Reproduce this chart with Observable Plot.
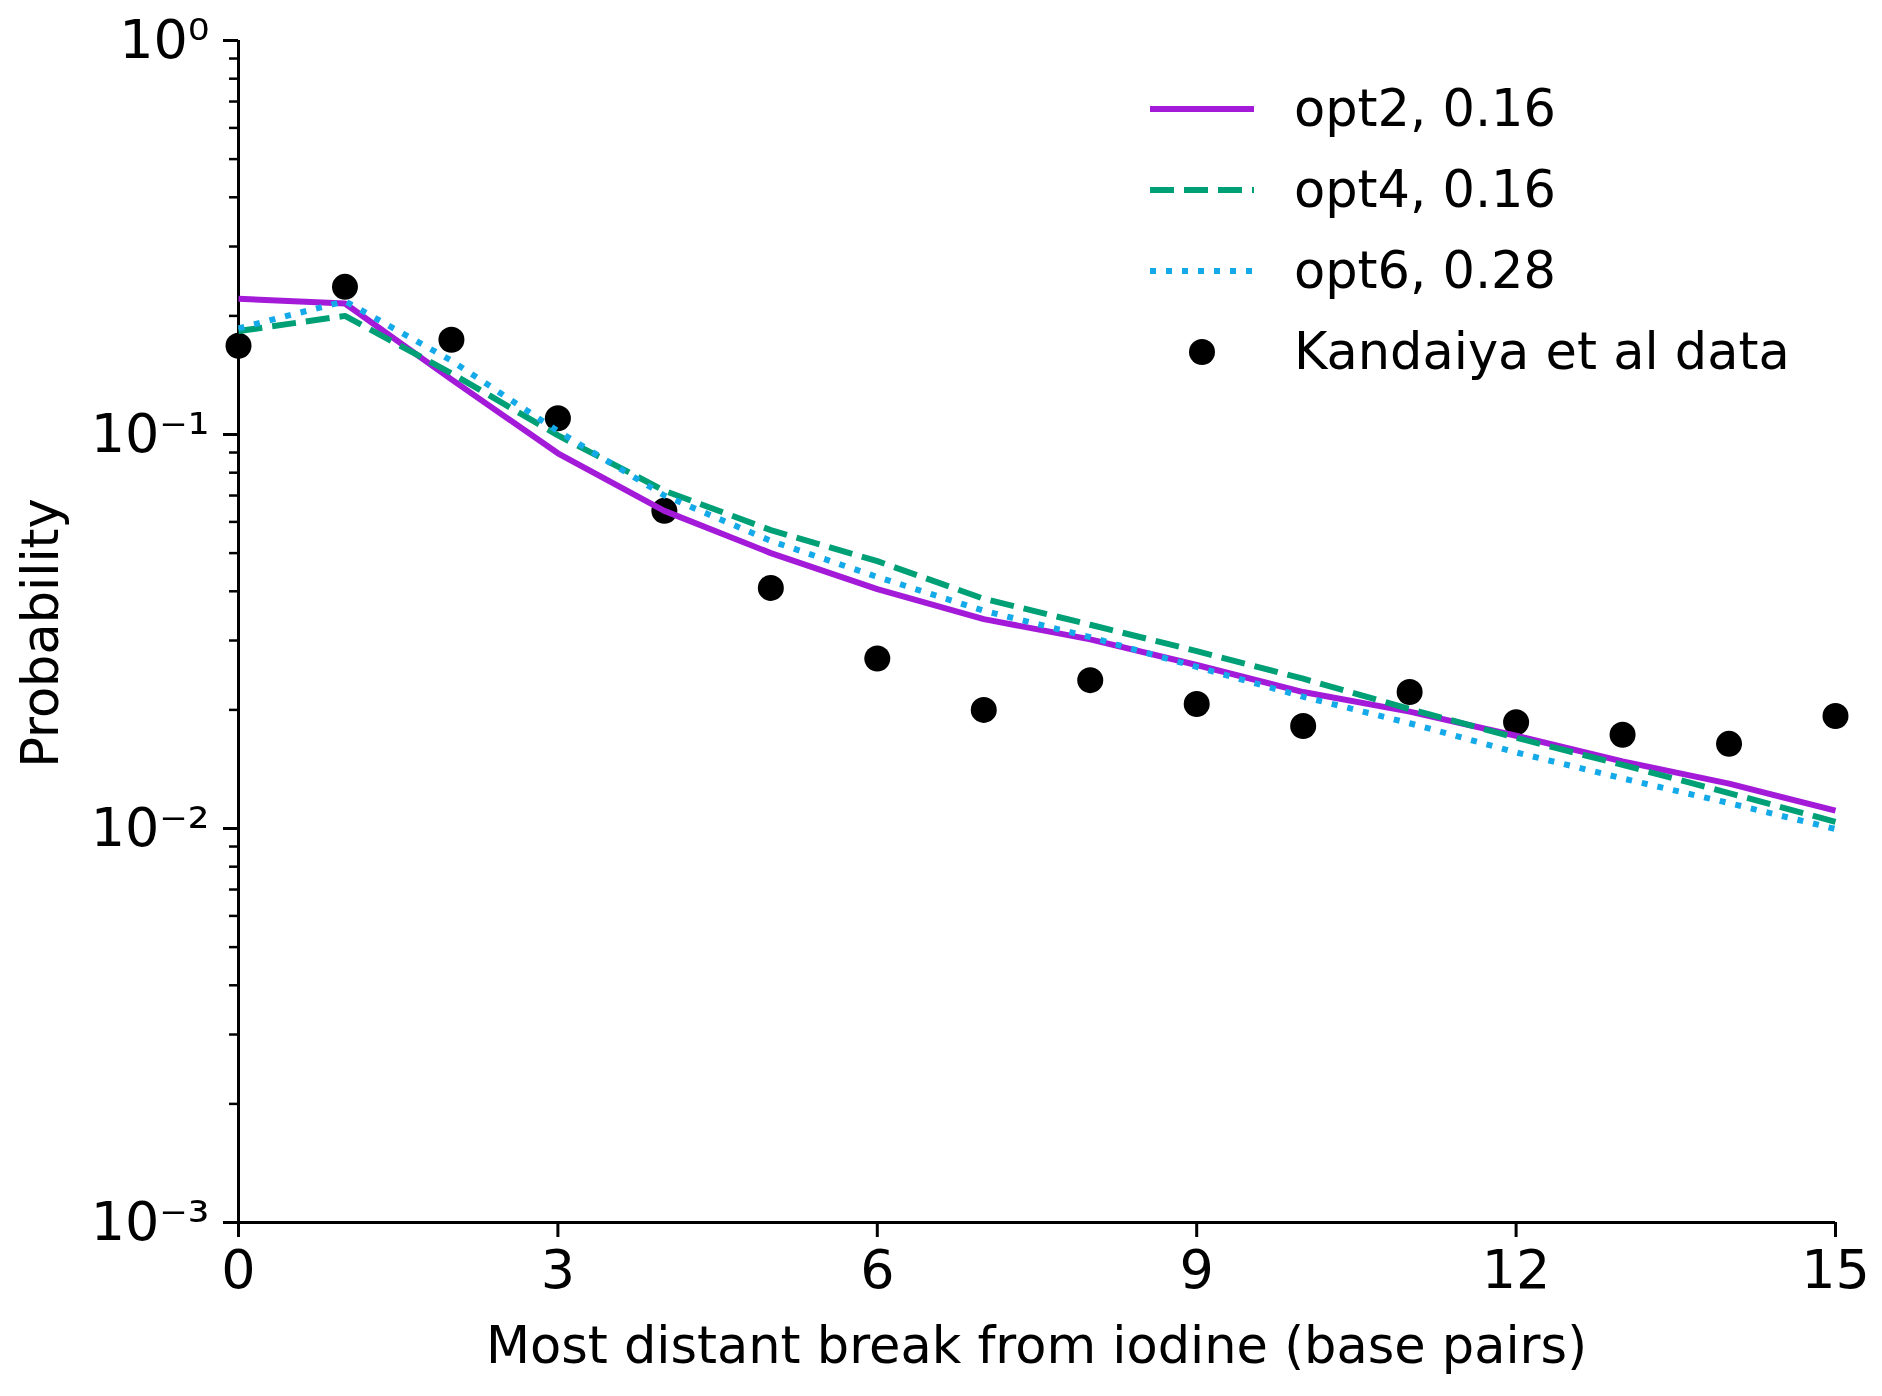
<!DOCTYPE html>
<html>
<head>
<meta charset="utf-8">
<script src="https://cdn.jsdelivr.net/npm/d3@7"></script>
<script src="https://cdn.jsdelivr.net/npm/@observablehq/plot@0.6"></script>
<style>
  html, body { margin: 0; padding: 0; background: #fff; }
  #wrap { position: relative; width: 1882px; height: 1396px; font-family: "DejaVu Sans", sans-serif; color: #000; }
  #legend { position: absolute; left: 1148px; top: 68px; }
  .row { display: flex; align-items: center; height: 81px; font-size: 51px; white-space: nowrap; }
  .row svg { margin-right: 38px; }
  #xlabel { position: absolute; left: 238px; width: 1597px; top: 1316px; text-align: center; font-size: 51px; }
  #ylabel { position: absolute; left: 40px; top: 633px; font-size: 51px; transform: translate(-50%, -50%) rotate(-90deg); white-space: nowrap; }
</style>
</head>
<body>
<div id="wrap"></div>
<script>
// ---- data ----
const xs = [0, 1, 2, 3, 4, 5, 6, 7, 8, 9, 10, 11, 12, 13, 14, 15];
const kandaiya = [0.168, 0.237, 0.174, 0.110, 0.064, 0.0408, 0.0270, 0.0200, 0.0238, 0.0207, 0.0182, 0.0222, 0.0186, 0.0173, 0.0164, 0.0193];
const opt2 = [0.221, 0.215, 0.138, 0.0896, 0.064, 0.050, 0.0405, 0.034, 0.0302, 0.026, 0.0222, 0.0198, 0.0172, 0.0148, 0.0130, 0.0111];
const opt4 = [0.183, 0.200, 0.143, 0.0995, 0.072, 0.0572, 0.0477, 0.0383, 0.0329, 0.0282, 0.0240, 0.0201, 0.0170, 0.0145, 0.0123, 0.0104];
const opt6 = [0.186, 0.218, 0.154, 0.102, 0.070, 0.0537, 0.0435, 0.0357, 0.0306, 0.0257, 0.0216, 0.0185, 0.0156, 0.0134, 0.0116, 0.00997];
const seriesNames = ["opt2, 0.16", "opt4, 0.16", "opt6, 0.28"];
const dataName = "Kandaiya et al data";
const xTicks = [0, 3, 6, 9, 12, 15];
const yMajorTicks = [1, 0.1, 0.01, 0.001];
const yMajorLabels = ["10⁰", "10⁻¹", "10⁻²", "10⁻³"];
const xTitle = "Most distant break from iodine (base pairs)";
const yTitle = "Probability";

// ---- styles ----
const colors = ["#a31bd8", "#00a077", "#14aaea"];
const dashes = [null, "24,10", "6,10"];
const lw = 6;

const yMinorTicks = [0.001, 0.01, 0.1].flatMap(d => d3.range(2, 10).map(k => k * d));

const toRows = arr => xs.map((x, i) => ({x, y: arr[i]}));
const seriesArrays = [opt2, opt4, opt6];

const chart = Plot.plot({
  width: 1882,
  height: 1396,
  marginLeft: 238,
  marginRight: 47,
  marginTop: 40,
  marginBottom: 174,
  style: { fontFamily: "DejaVu Sans", fontSize: "54px", color: "#000", background: "#fff" },
  x: { domain: [0, 15] },
  y: { type: "log", domain: [0.001, 1] },
  marks: [
    Plot.axisY({ ticks: yMinorTicks, tickSize: 9, tickFormat: () => "", strokeWidth: 2.5, label: null }),
    Plot.axisY({ ticks: yMajorTicks, tickSize: 15, tickPadding: 14, strokeWidth: 3, label: null,
                 tickFormat: d => yMajorLabels[yMajorTicks.findIndex(t => Math.abs(t - d) < 1e-12)] }),
    Plot.axisX({ ticks: xTicks, tickSize: 15, tickPadding: 12, strokeWidth: 3, label: null, tickFormat: d => String(d) }),
    Plot.ruleX([0], { stroke: "#000", strokeWidth: 3 }),
    Plot.ruleY([0.001], { stroke: "#000", strokeWidth: 3 }),
    Plot.dot(toRows(kandaiya), { x: "x", y: "y", r: 13, fill: "#000", stroke: "none" }),
    ...seriesArrays.map((arr, i) => Plot.line(toRows(arr), {
      x: "x", y: "y", stroke: colors[i], strokeWidth: lw,
      strokeDasharray: dashes[i] ?? undefined, strokeLinecap: "butt", strokeLinejoin: "round"
    }))
  ]
});

const wrap = document.getElementById("wrap");
wrap.appendChild(chart);

// axis titles
const xl = document.createElement("div"); xl.id = "xlabel"; xl.textContent = xTitle; wrap.appendChild(xl);
const yl = document.createElement("div"); yl.id = "ylabel"; yl.textContent = yTitle; wrap.appendChild(yl);

// legend
const legend = document.createElement("div"); legend.id = "legend";
seriesNames.forEach((name, i) => {
  const row = document.createElement("div"); row.className = "row";
  row.innerHTML = `<svg width="108" height="20"><line x1="2" y1="10" x2="106" y2="10" stroke="${colors[i]}" stroke-width="${lw}" ${dashes[i] ? `stroke-dasharray="${dashes[i]}"` : ""}/></svg>`;
  const t = document.createElement("span"); t.textContent = name; row.appendChild(t);
  legend.appendChild(row);
});
{
  const row = document.createElement("div"); row.className = "row";
  row.innerHTML = `<svg width="108" height="30"><circle cx="54" cy="15" r="13" fill="#000"/></svg>`;
  const t = document.createElement("span"); t.textContent = dataName; row.appendChild(t);
  legend.appendChild(row);
}
wrap.appendChild(legend);
</script>
</body>
</html>
